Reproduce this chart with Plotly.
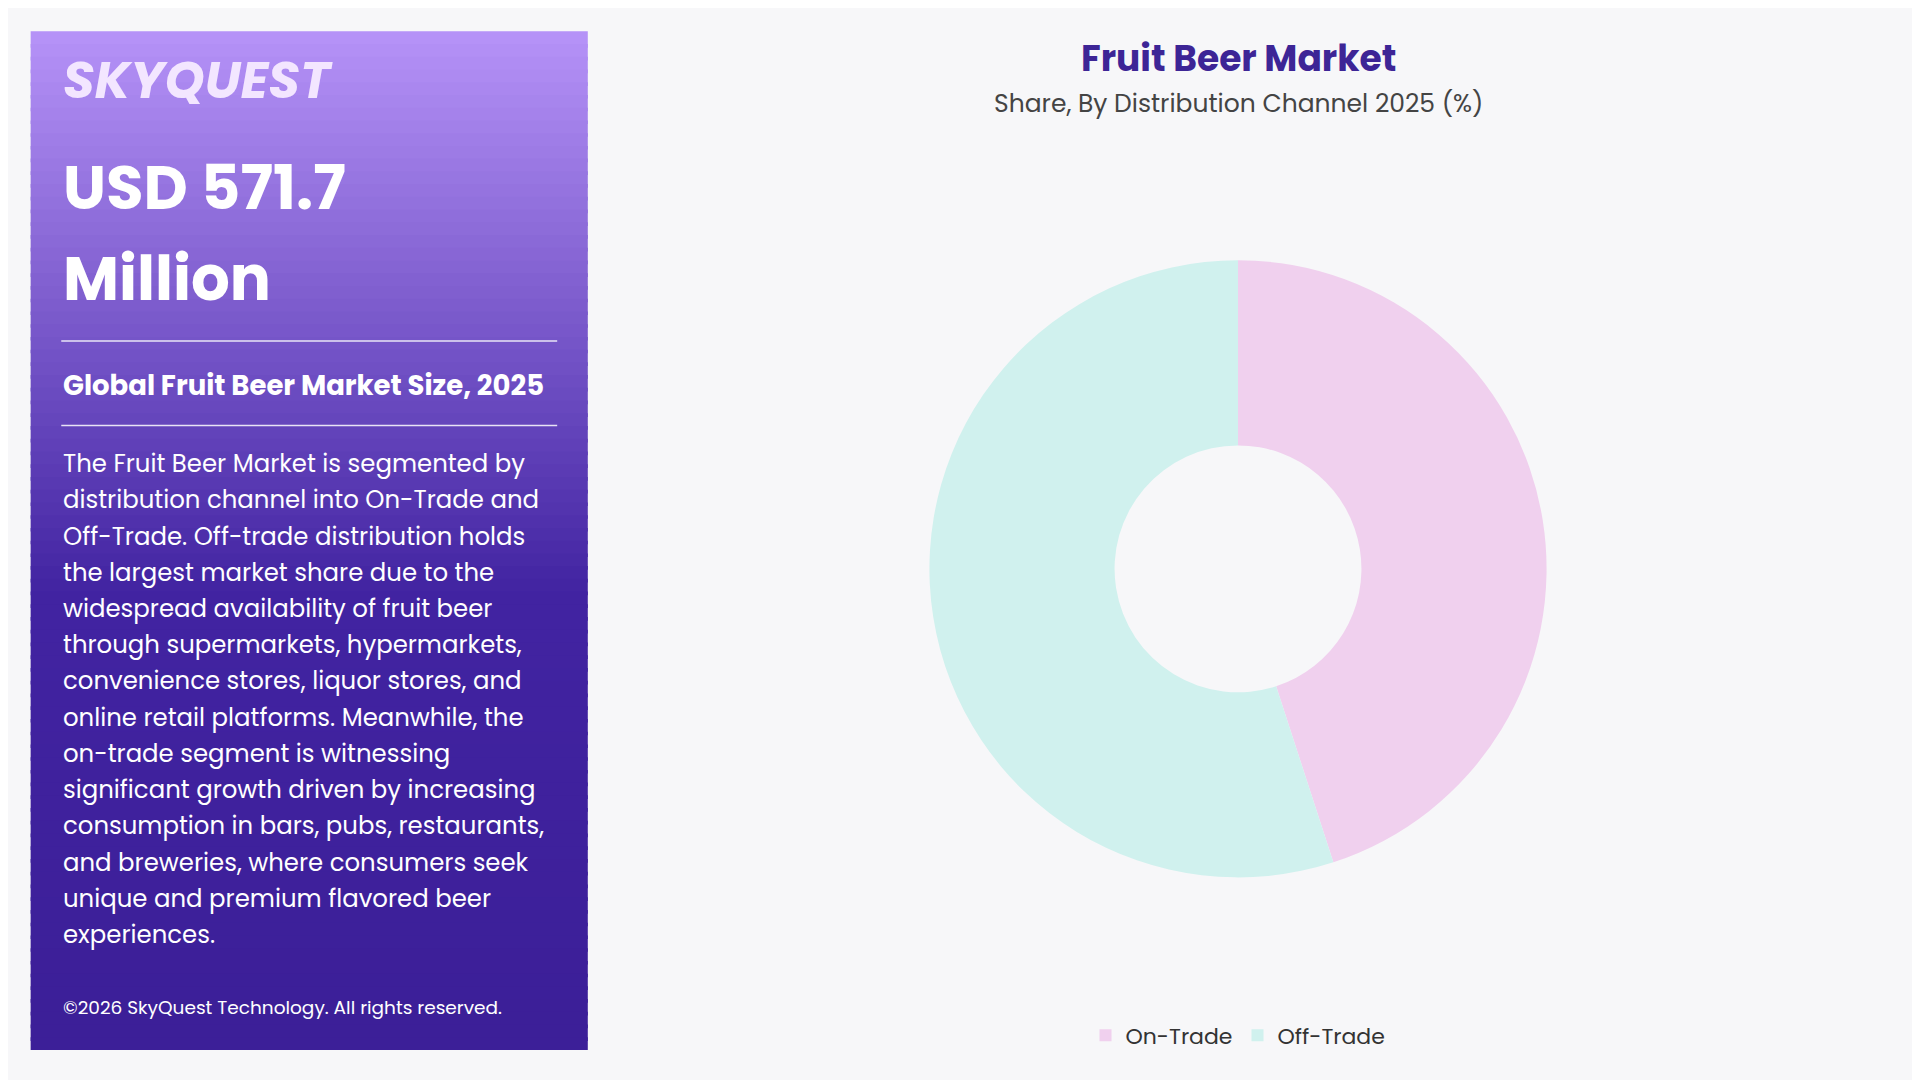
import plotly.graph_objects as go

channels = ['On-Trade', 'Off-Trade']
shares = [45, 55]
colors = ['#f0d0ee', '#d0f1ee']

headline = ['USD 571.7', 'Million']
subhead = 'Global Fruit Beer Market Size, 2025'
body_lines = [
    'The Fruit Beer Market is segmented by',
    'distribution channel into On-Trade and',
    'Off-Trade. Off-trade distribution holds',
    'the largest market share due to the',
    'widespread availability of fruit beer',
    'through supermarkets, hypermarkets,',
    'convenience stores, liquor stores, and',
    'online retail platforms. Meanwhile, the',
    'on-trade segment is witnessing',
    'significant growth driven by increasing',
    'consumption in bars, pubs, restaurants,',
    'and breweries, where consumers seek',
    'unique and premium flavored beer',
    'experiences.',
]

FONT = 'Poppins, Inter, Open Sans, sans-serif'
H = 882.0  # reference pixel height used for placement
W = 1568.0
DX, DY = -6.5, -6.0  # page margin compensation

def py(y):
    return 1 - (y + DY) / H

def px(x):
    return (x + DX) / W

fig = go.Figure()
fig.add_trace(go.Pie(
    labels=channels, values=shares, hole=0.4, sort=False, direction='clockwise',
    rotation=0, marker=dict(colors=colors), textinfo='none',
    domain=dict(x=[px(758), px(1264)], y=[py(716), py(212)]),
))

# gradient panel, stacked strips
def mix(a, b, t):
    return '#%02x%02x%02x' % tuple(int(a[i] + (b[i] - a[i]) * t) for i in range(3))

top, mid, bot = (181, 146, 247), (66, 36, 162), (60, 31, 152)
shapes = []
n = 80
y0, y1 = 25, 857
for i in range(n):
    f = i / (n - 1)
    c = mix(top, mid, f / 0.55) if f < 0.55 else mix(mid, bot, (f - 0.55) / 0.45)
    ya = y0 + (y1 - y0) * i / n
    yb = y0 + (y1 - y0) * (i + 1) / n + 3
    shapes.append(dict(type='rect', xref='paper', yref='paper', x0=px(25), x1=px(480),
                       y0=py(min(yb, y1)), y1=py(ya), fillcolor=c, line=dict(width=0), layer='below'))
for yl in (278, 347):
    shapes.append(dict(type='line', xref='paper', yref='paper', x0=px(50), x1=px(455),
                       y0=py(yl), y1=py(yl), line=dict(color='rgba(255,255,255,0.85)', width=1.5)))

ann = []
def txt(t, x, y, size, color='white', bold=False, anchor='left'):
    ann.append(dict(text='<b>%s</b>' % t if bold else t, x=px(x), y=py(y), xref='paper', yref='paper',
                    xanchor=anchor, yanchor='middle', showarrow=False,
                    font=dict(family=FONT, size=size, color=color)))

txt('<i>SKYQUEST</i>', 50, 65, 51, color='#f3e6ff', bold=True)
txt(headline[0], 50, 153, 61, bold=True)
txt(headline[1], 50, 227, 61, bold=True)
txt(subhead, 50, 314, 27.5, bold=True)
for i, line in enumerate(body_lines):
    txt(line, 50, 378 + i * 29.6, 24.4)
txt('©2026 SkyQuest Technology. All rights reserved.', 50, 822, 18.5)
txt('Fruit Beer Market', 1011, 47, 36, color='#3d2596', bold=True, anchor='center')
txt('Share, By Distribution Channel 2025 (%)', 1011, 84, 25, color='#444444', anchor='center')

fig.update_layout(
    width=1920, height=1080, margin=dict(l=0, r=0, t=0, b=0),
    paper_bgcolor='#f7f7f9', plot_bgcolor='#f7f7f9',
    shapes=shapes, annotations=ann,
    legend=dict(orientation='h', x=px(1011), xanchor='center', y=py(845), yanchor='middle',
                font=dict(family=FONT, size=22, color='#333333'), itemsizing='constant'),
)
fig.write_html('out.html')
